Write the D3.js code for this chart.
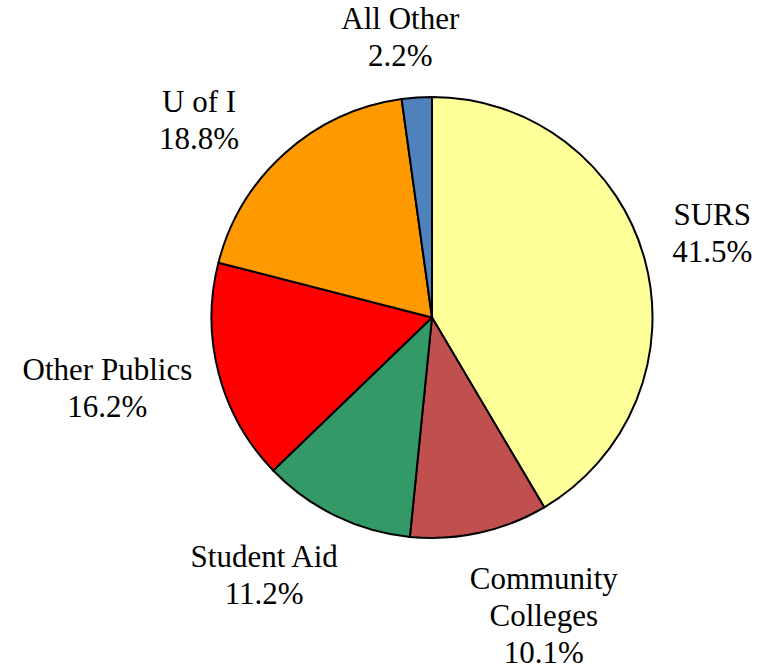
<!DOCTYPE html>
<html>
<head>
<meta charset="utf-8">
<script src="https://cdn.jsdelivr.net/npm/d3@7"></script>
<style>
  body { margin: 0; background: #fff; }
</style>
</head>
<body>
<div id="chart"></div>
<script>
var W = 767, H = 668;

// data, clockwise from 12 o'clock
var names = ["SURS", "Community\nColleges", "Student Aid", "Other Publics", "U of I", "All Other"];
var shares = [41.5, 10.1, 11.2, 16.2, 18.8, 2.2];
var colors = ["#FFFF99", "#C0504D", "#339966", "#FF0000", "#FF9900", "#4F81BD"];

// small hand nudges so labels sit where the original put them
var nudge = [[0, -8], [46, -1], [-41, -3], [1, -15], [-34, 25], [-12, 5]];

var cx = 432, cy = 317.5, r = 220.5;
var lineH = 37, fs = 31;
var font = "'Liberation Serif', 'Times New Roman', Times, serif";

var svg = d3.select("#chart")
    .append("svg")
    .attr("width", W)
    .attr("height", H);

var g = svg.append("g")
    .attr("transform", "translate(" + cx + "," + cy + ")");

var pie = d3.pie()
    .sort(null)
    .value(function(d){ return d; });

var arcs = pie(shares);

var arc = d3.arc()
    .innerRadius(0)
    .outerRadius(r);

g.selectAll("path")
    .data(arcs)
    .enter()
    .append("path")
    .attr("d", arc)
    .style("fill", function(d, i){ return colors[i]; })
    .style("stroke", "#000")
    .style("stroke-width", 2)
    .style("stroke-linejoin", "round");

// labels: name lines + percentage
var labels = g.selectAll("g.lbl")
    .data(arcs)
    .enter()
    .append("g")
    .attr("class", "lbl");

labels.each(function(d, i){
    var el = d3.select(this);
    var lines = names[i].split("\n").concat([d3.format(".1f")(shares[i]) + "%"]);
    var n = lines.length;
    var t = el.append("text")
        .attr("text-anchor", "middle")
        .style("font-family", font)
        .style("font-size", fs + "px")
        .style("fill", "#000");
    lines.forEach(function(s, k){
        t.append("tspan")
            .attr("x", 0)
            .attr("y", (k - (n - 1) / 2) * lineH + 10.5)
            .text(s);
    });

    // push the label box out along the slice's mid angle until it clears the pie
    var bb = t.node().getBBox();
    var w = bb.width, h = n * lineH;
    var a = (d.startAngle + d.endAngle) / 2;
    var ux = Math.sin(a), uy = -Math.cos(a);
    var tx = Math.abs(ux) > 1e-6 ? (w / 2) / Math.abs(ux) : Infinity;
    var ty = Math.abs(uy) > 1e-6 ? (h / 2) / Math.abs(uy) : Infinity;
    var dist = r + 28.5 + Math.min(tx, ty);
    var x = dist * ux + nudge[i][0];
    var y = dist * uy + nudge[i][1];
    el.attr("transform", "translate(" + x + "," + y + ")");
});
</script>
</body>
</html>
